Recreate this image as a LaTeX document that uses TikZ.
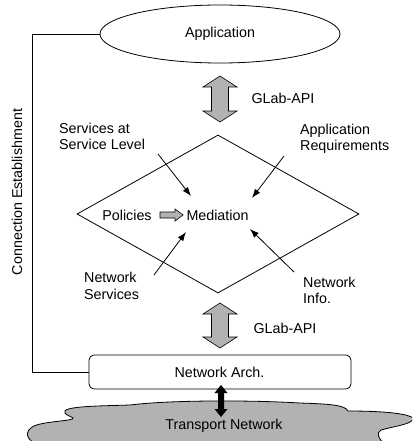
\documentclass[tikz,border=0pt]{standalone}
\usepackage{fontspec}
\setmainfont{Liberation Sans}
\usetikzlibrary{shapes.geometric,arrows.meta}
\begin{document}
\begin{tikzpicture}[x=1pt,y=-1pt,
  txt/.style={font=\fontsize{14.3}{16.5}\selectfont, inner sep=0pt, align=left},
  outline/.style={draw=black, line width=0.8pt},
  blockarr/.style={fill=black!30, draw=black, line width=0.6pt},
  feed/.style={draw=black, line width=0.8pt, -{Latex[length=9pt,width=6.5pt]}},
  cloudfill/.style={fill=black!30, draw=black, line width=0.8pt}]
\useasboundingbox (0,0) rectangle (412,441);
\clip (0,0) rectangle (412,441);

% cloud
\path[cloudfill] (65,413) .. controls (60,406) and (100,406) .. (130,405)
  .. controls (170,400) and (250,400) .. (300,403)
  .. controls (330,404) and (345,405) .. (348,411)
  .. controls (370,411) and (405,412) .. (413,418)
  .. controls (414,424) and (395,426) .. (381,430)
  .. controls (376,433) and (378,438) .. (386,446)
  -- (40,446) .. controls (25,440) and (24,431) .. (34,426)
  .. controls (45,421) and (75,421) .. (73,418)
  .. controls (70,416) and (66,415) .. (65,413) -- cycle;
\node[txt] (tn) at (224,426) {Transport Network};

% application ellipse
\node[ellipse, outline, minimum width=240pt, minimum height=58pt, inner sep=0pt] (app) at (220,34) {};
\node[txt] (apptxt) at (220,34) {Application};

% top API arrow
\coordinate (apiT) at (220,99);
\path[blockarr] ([shift={(0,-23)}]apiT) -- ++(17,11) -- ++(-8.5,0) -- ++(0,24) -- ++(8.5,0)
  -- ++(-17,11) -- ++(-17,-11) -- ++(8.5,0) -- ++(0,-24) -- ++(-8.5,0) -- cycle;
\node[txt] (apiTl) at (283,98) {GLab-API};

% diamond
\node[diamond, outline, minimum width=282pt, minimum height=158pt, inner sep=0pt] (dia) at (218,214) {};

\node[txt, anchor=west] (svc) at (59,136.5) {Services at\\Service Level};
\node[txt, anchor=west] (areq) at (300,139) {Application\\Requirements};
\node[txt] (pol) at (127,215) {Policies};
\node[txt] (med) at (217.5,215) {Mediation};
\node[txt, anchor=west] (nsvc) at (84,286) {Network\\Services};
\node[txt, anchor=west] (ninfo) at (303,290.5) {Network\\Info.};

% small policies arrow
\path[blockarr] (160,212) -- (175,212) -- (175,209) -- (183,215) -- (175,221) -- (175,218) -- (160,218) -- cycle;

% feeding arrows
\coordinate (s1) at (158,154); \coordinate (e1) at (191,196);
\coordinate (s2) at (284,156); \coordinate (e2) at (252,198);
\coordinate (s3) at (154,275); \coordinate (e3) at (186,232);
\coordinate (s4) at (294,272); \coordinate (e4) at (250,229);
\draw[feed] (s1) -- (e1);
\draw[feed] (s2) -- (e2);
\draw[feed] (s3) -- (e3);
\draw[feed] (s4) -- (e4);

% bottom API arrow
\coordinate (apiB) at (220,325.5);
\path[blockarr] ([shift={(0,-22.5)}]apiB) -- ++(17,11) -- ++(-8.5,0) -- ++(0,23) -- ++(8.5,0)
  -- ++(-17,11) -- ++(-17,-11) -- ++(8.5,0) -- ++(0,-23) -- ++(-8.5,0) -- cycle;
\node[txt] (apiBl) at (285,328) {GLab-API};

% network arch box
\node[rectangle, rounded corners=5pt, outline, fill=white, minimum width=262pt, minimum height=34pt, inner sep=0pt] (arch) at (220,372) {};
\node[txt] (archtxt) at (219.5,372) {Network Arch.};

% black double arrow
\path[fill=black] (221,385) -- ++(6.5,8) -- ++(-3.5,0) -- ++(0,16) -- ++(3.5,0) -- ++(-6.5,8)
  -- ++(-6.5,-8) -- ++(3.5,0) -- ++(0,-16) -- ++(-3.5,0) -- cycle;

% connection establishment
\coordinate (cx) at (32,0);
\draw[outline] (app.west) -| (cx |- arch.west) -- (arch.west);
\node[txt, rotate=90] (conn) at (17,192) {Connection Establishment};
\end{tikzpicture}
\end{document}
